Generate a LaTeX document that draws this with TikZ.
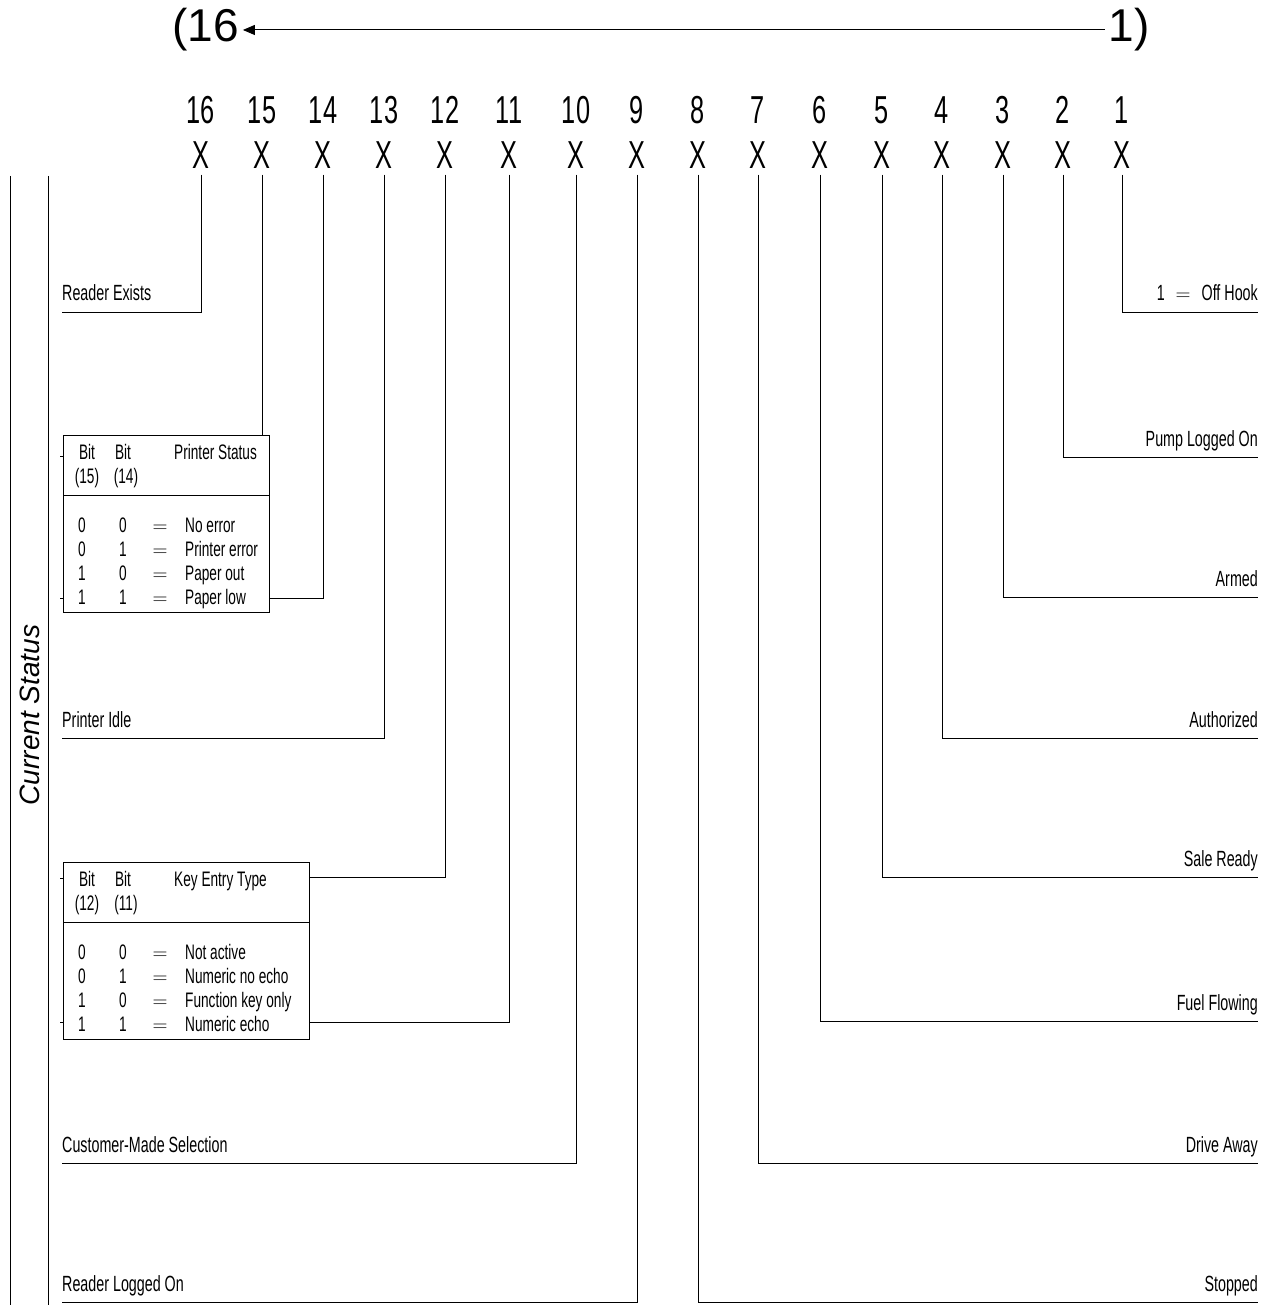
\documentclass[tikz,border=0pt]{standalone}
\usepackage{fontspec}
\setmainfont{Liberation Sans}[FakeStretch=0.65]
\newfontfamily\sidefont{Liberation Sans}
\usetikzlibrary{arrows.meta, positioning, calc}

\tikzset{
  bitnum/.style={font=\fontsize{39}{40}\selectfont, inner sep=0pt},
  order/.style={font=\sidefont\fontsize{46}{48}\selectfont, inner sep=0pt},
  lbl/.style={font=\fontsize{22}{24}\selectfont, inner sep=0pt, anchor=base west},
  lblr/.style={lbl, anchor=base east},
  tbox/.style={draw, line width=1pt, inner sep=0pt, anchor=north west},
  tcell/.style={font=\fontsize{21}{24}\selectfont, inner sep=0pt, anchor=base},
  tcellw/.style={tcell, anchor=base west},
  wire/.style={line width=1pt},
}

\begin{document}
\begin{tikzpicture}[x=1pt, y=-1pt]
  \useasboundingbox (0,0) rectangle (1272,1305);

  % bit order arrow
  \node[order, anchor=west] (hi) at (172,30) {(16};
  \node[order, anchor=east] (lo) at (1150,30) {1)};
  \draw[wire, -{Triangle[length=12pt,width=10pt]}] ([xshift=-4pt]lo.west) -- ([xshift=4pt]hi.east);

  % bit numbers and X row
  \foreach \b/\x in {16/201, 15/262, 14/323, 13/384, 12/445, 11/509, 10/576, 9/637,
                     8/698, 7/758, 6/820, 5/882, 4/942, 3/1003, 2/1063, 1/1122} {
    \node[bitnum] (n\b) at (\x,110) {\b};
    \node[bitnum] (x\b) at (\x,155) {X};
  }

  % side rails
  \coordinate (r1t) at (10,176); \coordinate (r1b) at (10,1305);
  \coordinate (r2t) at (48,176); \coordinate (r2b) at (48,1305);
  \draw[wire] (r1t) -- (r1b);
  \draw[wire] (r2t) -- (r2b);
  \node[rotate=90, font=\sidefont\itshape\fontsize{28}{30}\selectfont, inner sep=0pt] (cs) at (30,715) {Current Status};

  % single bits, left side
  \foreach \b/\y/\t in {16/312/Reader Exists, 13/738/Printer Idle,
                        10/1163/Customer-Made Selection, 9/1302/Reader Logged On} {
    \coordinate (e\b) at (62,\y);
    \node[lbl] (l\b) at ([yshift=11pt]e\b) {\t};
    \draw[wire, shorten <=6pt] (x\b.south) |- (e\b);
  }

  % single bits, right side
  \foreach \b/\y/\t in {1/312/{1\enspace\(=\)\enspace Off Hook}, 2/457/Pump Logged On, 3/597/Armed,
                        4/738/Authorized, 5/877/Sale Ready, 6/1021/Fuel Flowing,
                        7/1163/Drive Away, 8/1302/Stopped} {
    \coordinate (e\b) at (1258,\y);
    \node[lblr] (l\b) at ([yshift=11pt]e\b) {\t};
    \draw[wire, shorten <=6pt] (x\b.south) |- (e\b);
  }

  % printer status table (bits 15, 14)
  \node[tbox, minimum width=206pt, minimum height=177pt] (tabA) at (63,435) {};
  \draw[wire] ([yshift=-60pt]tabA.north west) -- ([yshift=-60pt]tabA.north east);
  \path (tabA.north west) ++(24,24) node[tcell] (tabA-b1) {Bit}
        ++(36,0) node[tcell] (tabA-b2) {Bit}
        ++(51,0) node[tcellw] (tabA-h) {Printer Status};
  \path (tabA.north west) ++(24,48) node[tcell] (tabA-i1) {(15)}
        ++(39,0) node[tcell] (tabA-i2) {(14)};
  \foreach \r/\p/\q/\t in {1/0/0/No error, 2/0/1/Printer error, 3/1/0/Paper out, 4/1/1/Paper low} {
    \path (tabA.north west) ++(19,{73+24*\r}) node[tcell] (tabA-p\r) {\p}
          ++(41,0) node[tcell] (tabA-q\r) {\q}
          ++(37,0) node[tcell] (tabA-e\r) {\(=\)}
          ++(25,0) node[tcellw] (tabA-t\r) {\t};
  }

  % key entry table (bits 12, 11)
  \node[tbox, minimum width=246pt, minimum height=177pt] (tabB) at (63,862) {};
  \draw[wire] ([yshift=-60pt]tabB.north west) -- ([yshift=-60pt]tabB.north east);
  \path (tabB.north west) ++(24,24) node[tcell] (tabB-b1) {Bit}
        ++(36,0) node[tcell] (tabB-b2) {Bit}
        ++(51,0) node[tcellw] (tabB-h) {Key Entry Type};
  \path (tabB.north west) ++(24,48) node[tcell] (tabB-i1) {(12)}
        ++(39,0) node[tcell] (tabB-i2) {(11)};
  \foreach \r/\p/\q/\t in {1/0/0/Not active, 2/0/1/Numeric no echo, 3/1/0/Function key only, 4/1/1/Numeric echo} {
    \path (tabB.north west) ++(19,{73+24*\r}) node[tcell] (tabB-p\r) {\p}
          ++(41,0) node[tcell] (tabB-q\r) {\q}
          ++(37,0) node[tcell] (tabB-e\r) {\(=\)}
          ++(25,0) node[tcellw] (tabB-t\r) {\t};
  }

  % table connectors
  \draw[wire, shorten <=6pt] (x15.south) -- (x15.south |- tabA.north);
  \draw[wire, shorten <=6pt] (x14.south) |- ([yshift=15pt]tabA.south east);
  \draw[wire, shorten <=6pt] (x12.south) |- ([yshift=-15pt]tabB.north east);
  \draw[wire, shorten <=6pt] (x11.south) |- ([yshift=18pt]tabB.south east);
  \draw[wire] ([yshift=-21pt]tabA.north west) -- ++(-3,0);
  \draw[wire] ([yshift=15pt]tabA.south west) -- ++(-3,0);
  \draw[wire] ([yshift=-16pt]tabB.north west) -- ++(-3,0);
  \draw[wire] ([yshift=18pt]tabB.south west) -- ++(-3,0);
\end{tikzpicture}
\end{document}
